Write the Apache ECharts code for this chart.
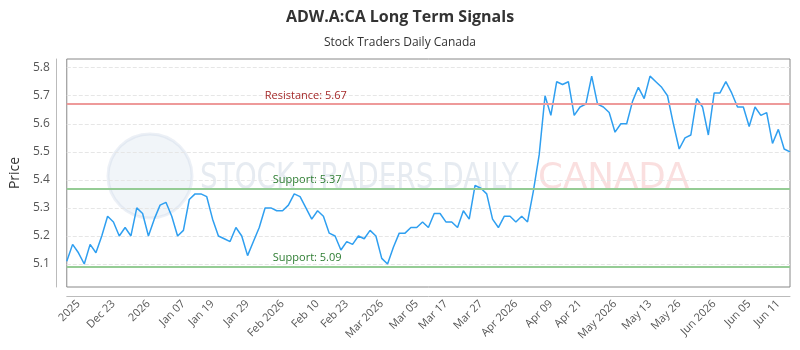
<!DOCTYPE html>
<html>
<head>
<meta charset="utf-8">
<script src="https://cdn.jsdelivr.net/npm/echarts@6/dist/echarts.min.js"></script>
<style>html,body{margin:0;padding:0;background:#fff}#c{width:800px;height:350px}</style>
</head>
<body>
<div id="c"></div>
<script>
// ---- data ----
const titleText = 'ADW.A:CA Long Term Signals';
const subtitleText = 'Stock Traders Daily Canada';
const prices = [
  5.11,5.17,5.14,5.10,5.17,5.14,5.20,5.27,5.25,5.20,
  5.23,5.20,5.30,5.28,5.20,5.26,5.31,5.32,5.27,5.20,
  5.22,5.33,5.35,5.35,5.34,5.26,5.20,5.19,5.18,5.23,
  5.20,5.13,5.18,5.23,5.30,5.30,5.29,5.29,5.31,5.35,
  5.34,5.30,5.26,5.29,5.27,5.21,5.20,5.15,5.18,5.17,
  5.20,5.19,5.22,5.20,5.12,5.10,5.16,5.21,5.21,5.23,
  5.23,5.25,5.23,5.28,5.28,5.25,5.25,5.23,5.29,5.26,
  5.38,5.37,5.35,5.26,5.23,5.27,5.27,5.25,5.27,5.25,
  5.36,5.49,5.70,5.63,5.75,5.74,5.75,5.63,5.66,5.67,
  5.77,5.67,5.66,5.64,5.57,5.60,5.60,5.68,5.73,5.69,
  5.77,5.75,5.73,5.70,5.60,5.51,5.55,5.56,5.69,5.66,
  5.56,5.71,5.71,5.75,5.71,5.66,5.66,5.59,5.66,5.63,
  5.64,5.53,5.58,5.51,5.50
];
const tickLabels = ['2025','Dec 23','2026','Jan 07','Jan 19','Jan 29','Feb 2026','Feb 10','Feb 23','Mar 2026','Mar 05','Mar 17','Mar 27','Apr 2026','Apr 09','Apr 21','May 2026','May 13','May 26','Jun 2026','Jun 05','Jun 11'];
const tickLabelIndex = [2,8,14,20,25,31,37,43,48,54,60,65,71,77,83,88,94,100,105,111,117,122];
const yTicks = [5.1,5.2,5.3,5.4,5.5,5.6,5.7,5.8];
const yMin = 5.018, yMax = 5.831;
const resistance = 5.67;
const supports = [5.37, 5.09];
const watermarkMain = 'STOCK TRADERS DAILY';
const watermarkAccent = 'CANADA';

// ---- build ----
const categories = prices.map((_, i) => String(i));
const labelMap = {};
tickLabelIndex.forEach((idx, k) => { labelMap[idx] = tickLabels[k]; });

const chart = echarts.init(document.getElementById('c'), null, {renderer: 'canvas'});
const font = '"Open Sans", "Noto Sans", sans-serif';
const wmFont = '36px "DejaVu Sans Condensed", "Liberation Sans Narrow", sans-serif';

const option = {
  animation: false,
  backgroundColor: '#fff',
  title: {
    text: titleText,
    subtext: subtitleText,
    left: 'center',
    top: 4,
    itemGap: 12,
    textStyle: {fontFamily: font, fontSize: 16, fontWeight: 'bold', color: '#333'},
    subtextStyle: {fontFamily: font, fontSize: 12, color: '#333'}
  },
  grid: {
    left: 64, right: 10, top: 59, bottom: 63,
    show: true, borderColor: '#888', borderWidth: 1, backgroundColor: 'transparent'
  },
  graphic: [
    {type: 'circle', x: 150, y: 176, shape: {r: 42}, z: 0, silent: true,
     style: {fill: 'rgba(215,225,238,0.35)', stroke: 'rgba(200,212,230,0.35)', lineWidth: 3}},
    {type: 'text', x: 200, y: 161, scaleX: 0.86, z: 0, silent: true,
     style: {text: watermarkMain, fill: 'rgba(200,210,225,0.45)', font: wmFont}},
    {type: 'text', x: 538, y: 161, scaleX: 1.1, z: 0, silent: true,
     style: {text: watermarkAccent, fill: 'rgba(245,185,185,0.45)', font: wmFont}}
  ],
  xAxis: {
    type: 'category',
    data: categories,
    boundaryGap: false,
    offset: 9,
    axisLine: {show: true, lineStyle: {color: '#bbb', width: 1}},
    axisTick: {show: false},
    splitLine: {show: false},
    axisLabel: {
      rotate: 45,
      interval: (idx) => labelMap[idx] !== undefined,
      formatter: (v, idx) => labelMap[idx] || '',
      fontFamily: font, fontSize: 11, color: '#555', margin: 6
    }
  },
  yAxis: {
    type: 'value',
    min: yMin, max: yMax,
    offset: 11,
    name: 'Price',
    nameLocation: 'middle',
    nameGap: 30,
    nameTextStyle: {fontFamily: font, fontSize: 14, color: '#333'},
    axisLine: {show: true, lineStyle: {color: '#bbb', width: 1}},
    axisTick: {show: false, customValues: yTicks},
    axisLabel: {customValues: yTicks, formatter: v => v.toFixed(1), fontFamily: font, fontSize: 12, color: '#555', margin: 6},
    splitLine: {show: true, lineStyle: {color: '#e6e6e6', type: 'dashed', width: 1}}
  },
  series: [{
    type: 'line',
    data: prices,
    showSymbol: false,
    symbol: 'none',
    lineStyle: {color: '#2f9ff0', width: 1.5},
    z: 3,
    markLine: {
      silent: true,
      symbol: 'none',
      animation: false,
      data: [
        {yAxis: resistance, lineStyle: {color: '#ee9a9a', width: 2, type: 'solid'},
         label: {formatter: 'Resistance: ' + resistance.toFixed(2), position: 'insideStartTop', distance: [198, 3], color: '#a52a2a', fontFamily: font, fontSize: 11}},
        {yAxis: supports[0], lineStyle: {color: '#95cc95', width: 2, type: 'solid'},
         label: {formatter: 'Support: ' + supports[0].toFixed(2), position: 'insideStartTop', distance: [206, 3], color: '#2e7d32', fontFamily: font, fontSize: 11}},
        {yAxis: supports[1], lineStyle: {color: '#95cc95', width: 2, type: 'solid'},
         label: {formatter: 'Support: ' + supports[1].toFixed(2), position: 'insideStartTop', distance: [206, 3], color: '#2e7d32', fontFamily: font, fontSize: 11}}
      ]
    }
  }]
};
chart.setOption(option);
</script>
</body>
</html>
